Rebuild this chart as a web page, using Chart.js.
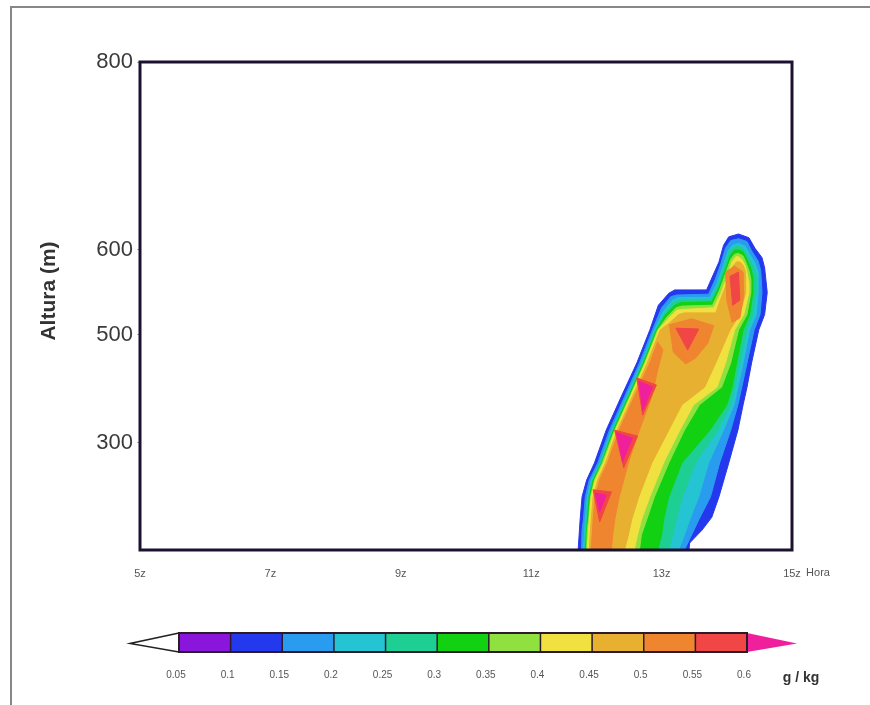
<!DOCTYPE html>
<html lang="pt">
<head>
<meta charset="utf-8">
<title>Conteúdo de água líquida</title>
<script src="https://cdn.jsdelivr.net/npm/chart.js@4.4.1/dist/chart.umd.min.js"></script>
<style>
  html, body { margin: 0; padding: 0; background: #fff; }
  #wrap { position: relative; width: 870px; height: 705px; }
</style>
</head>
<body>
<div id="wrap"><canvas id="lwcChart" width="870" height="705"></canvas></div>
<script>
// eixos
const horaTicks = [5, 7, 9, 11, 13, 15];
const alturaTicks = [300, 500, 600, 800];

// níveis do contorno (g/kg) e cores de cada faixa (abaixo de 0.05 ... acima de 0.6)
const niveis = [0.05, 0.1, 0.15, 0.2, 0.25, 0.3, 0.35, 0.4, 0.45, 0.5, 0.55, 0.6];
const cores = ['#ffffff', '#8a16dc', '#2438ee', '#2a9cf0', '#24c4d2', '#1ecf94',
               '#12d012', '#90e040', '#f0e040', '#e8b030', '#f08530', '#f04646', '#f0209c'];

// contornos fechados [hora, altura (m)]
const acima010 = [
  [11.72,100],[11.74,137],[11.75,156],[11.78,199],[11.85,230],[11.97,262],[12.15,323],[12.38,385],[12.62,448],[12.82,506],[12.95,535],[13.11,549],[13.20,553],
  [13.69,553],[13.77,567],[13.88,586],[13.95,605],[14.03,614],[14.18,617],[14.34,613],[14.43,602],[14.54,591],[14.58,579],[14.62,550],
  [14.58,524],[14.49,506],[14.38,448],[14.31,403],[14.25,370],[14.17,323],[14.03,262],[13.88,199],[13.77,161],[13.62,137],[13.43,113],[13.42,100]
];
const acima015 = [
  [11.77,100],[11.78,137],[11.80,156],[11.83,199],[11.89,230],[12.02,262],[12.20,323],[12.43,385],[12.66,448],[12.86,506],[13.00,532],[13.14,545],[13.23,547],
  [13.72,548],[13.82,565],[13.91,584],[13.98,602],[14.06,610],[14.18,612],[14.31,609],[14.38,599],[14.48,587],[14.52,576],[14.54,550],
  [14.51,524],[14.42,506],[14.31,448],[14.23,403],[14.17,370],[14.06,323],[13.89,262],[13.75,199],[13.57,156],[13.46,128],[13.35,100]
];
const acima020 = [
  [11.80,100],[11.82,137],[11.83,156],[11.86,199],[11.92,230],[12.05,262],[12.23,323],[12.46,385],[12.69,448],[12.89,506],[13.03,528],[13.17,541],[13.26,544],
  [13.74,544],[13.85,561],[13.94,580],[14.02,599],[14.09,605],[14.18,607],[14.28,604],[14.35,595],[14.43,585],[14.48,574],[14.48,550],
  [14.45,524],[14.35,506],[14.25,448],[14.17,403],[14.11,370],[13.95,323],[13.72,262],[13.57,199],[13.43,156],[13.35,128],[13.26,100]
];
const acima025 = [
  [11.82,100],[11.83,137],[11.85,156],[11.88,199],[11.94,230],[12.06,262],[12.25,323],[12.48,385],[12.71,448],[12.91,506],[13.05,526],[13.18,539],[13.28,541],
  [13.75,542],[13.86,558],[13.95,578],[14.03,598],[14.11,603],[14.18,604],[14.26,601],[14.32,593],[14.40,582],[14.45,572],[14.45,550],
  [14.40,524],[14.31,506],[14.20,448],[14.12,403],[14.06,370],[13.86,323],[13.52,262],[13.32,199],[13.22,156],[13.17,128],[13.11,100]
];
const acima030 = [
  [11.83,100],[11.85,137],[11.86,156],[11.89,199],[11.95,230],[12.08,262],[12.26,323],[12.49,385],[12.72,448],[12.92,506],[13.06,524],[13.20,535],[13.29,538],
  [13.77,539],[13.88,556],[13.97,575],[14.05,593],[14.12,600],[14.18,600],[14.25,598],[14.31,589],[14.37,578],[14.40,568],[14.40,550],
  [14.35,524],[14.25,506],[14.15,448],[14.08,403],[14.00,370],[13.74,323],[13.31,262],[13.11,199],[13.03,156],[13.00,128],[12.94,100]
];
const acima035 = [
  [11.85,100],[11.86,137],[11.88,156],[11.91,199],[11.97,230],[12.09,262],[12.28,323],[12.51,385],[12.74,448],[12.94,506],[13.08,521],[13.22,532],[13.31,534],
  [13.78,535],[13.89,553],[13.98,572],[14.06,589],[14.12,595],[14.18,596],[14.25,593],[14.29,586],[14.34,576],[14.37,565],[14.37,550],
  [14.31,524],[14.18,506],[14.06,448],[13.92,403],[13.58,370],[13.35,323],[13.11,262],[12.89,199],[12.77,156],[12.69,128],[12.66,100]
];
const acima040 = [
  [11.86,100],[11.88,137],[11.89,156],[11.92,199],[11.98,230],[12.11,262],[12.29,323],[12.52,385],[12.75,448],[12.95,506],[13.09,518],[13.23,529],[13.32,530],
  [13.80,532],[13.91,549],[14.00,568],[14.08,586],[14.14,592],[14.18,592],[14.23,589],[14.28,582],[14.31,573],[14.34,561],[14.34,550],
  [14.26,524],[14.12,506],[13.98,448],[13.85,403],[13.49,370],[13.28,323],[13.03,262],[12.82,199],[12.69,156],[12.63,128],[12.58,100]
];
const acima045 = [
  [11.89,100],[11.91,137],[11.92,156],[11.95,199],[12.02,230],[12.14,262],[12.32,323],[12.55,385],[12.78,448],[12.98,506],[13.12,514],[13.26,524],[13.35,526],
  [13.83,526],[13.92,545],[14.02,565],[14.09,581],[14.15,586],[14.20,586],[14.25,582],[14.28,576],[14.29,567],[14.29,550],
  [14.20,524],[14.05,506],[13.83,448],[13.66,403],[13.31,370],[13.11,323],[12.85,262],[12.65,199],[12.54,156],[12.49,128],[12.43,100]
];
const acima050 = [
  [[11.92,100],[11.94,137],[11.95,156],[11.98,199],[12.05,230],[12.17,262],[12.35,323],[12.58,385],[12.82,448],[12.94,487],
   [13.02,472],[12.94,435],[12.85,385],[12.66,323],[12.49,262],[12.35,199],[12.28,156],[12.25,128],[12.23,100]],
  [[13.12,512],[13.46,519],[13.80,511],[13.71,485],[13.52,457],[13.37,446],[13.18,468]],
  [[13.98,574],[14.12,581],[14.25,574],[14.26,547],[14.20,520],[14.08,515],[14.00,541]]
];
const acima055 = [
  [[11.95,212],[12.23,208],[12.05,152]],
  [[12.28,323],[12.63,312],[12.42,253]],
  [[12.62,420],[12.92,407],[12.71,351]],
  [[13.22,508],[13.57,507],[13.40,472]],
  [[14.05,569],[14.18,574],[14.20,541],[14.09,535]]
];
const acima060 = [
  [[11.98,206],[12.15,202],[12.05,171]],
  [[12.31,318],[12.55,308],[12.40,264]],
  [[12.65,414],[12.86,403],[12.71,360]]
];

const contornos = [
  { nivel: 0.1,  poligonos: [acima010] },
  { nivel: 0.15, poligonos: [acima015] },
  { nivel: 0.2,  poligonos: [acima020] },
  { nivel: 0.25, poligonos: [acima025] },
  { nivel: 0.3,  poligonos: [acima030] },
  { nivel: 0.35, poligonos: [acima035] },
  { nivel: 0.4,  poligonos: [acima040] },
  { nivel: 0.45, poligonos: [acima045] },
  { nivel: 0.5,  poligonos: acima050 },
  { nivel: 0.55, poligonos: acima055 },
  { nivel: 0.6,  poligonos: acima060 }
];

// eixo vertical com espaçamento por trechos (níveis do modelo)
const eixoAlturas = [100, 500, 600, 800];
const eixoFracoes = [0, 0.4406, 0.6148, 1];
function interp(v, xs, ys) {
  for (let i = 1; i < xs.length; i++) {
    if (v <= xs[i] || i === xs.length - 1) {
      const t = (v - xs[i - 1]) / (xs[i] - xs[i - 1]);
      return ys[i - 1] + t * (ys[i] - ys[i - 1]);
    }
  }
}
class AlturaScale extends Chart.LinearScale {
  getPixelForValue(value) {
    return this.getPixelForDecimal(interp(value, eixoAlturas, eixoFracoes));
  }
  getValueForPixel(pixel) {
    return interp(this.getDecimalForPixel(pixel), eixoFracoes, eixoAlturas);
  }
}
AlturaScale.id = 'altura';
AlturaScale.defaults = Chart.LinearScale.defaults;
Chart.register(AlturaScale);

const datasets = [];
contornos.forEach(c => {
  const cor = cores[niveis.indexOf(c.nivel) + 1];
  c.poligonos.forEach(p => {
    datasets.push({
      label: '≥ ' + c.nivel,
      data: p.map(([h, z]) => ({ x: h, y: z })),
      backgroundColor: cor,
      borderColor: cor,
      pointRadius: 0,
      showLine: false
    });
  });
});

// preenche os contornos usando as escalas do gráfico
const contornoPlugin = {
  id: 'contornos',
  beforeDatasetsDraw(chart) {
    const { ctx, chartArea: a, scales: { x, y } } = chart;
    ctx.save();
    ctx.beginPath();
    ctx.rect(a.left, a.top, a.right - a.left, a.bottom - a.top);
    ctx.clip();
    chart.data.datasets.forEach(ds => {
      ctx.beginPath();
      ds.data.forEach((p, i) => {
        const px = x.getPixelForValue(p.x), py = y.getPixelForValue(p.y);
        if (i) ctx.lineTo(px, py); else ctx.moveTo(px, py);
      });
      ctx.closePath();
      ctx.fillStyle = ds.backgroundColor;
      ctx.fill();
      ctx.strokeStyle = ds.backgroundColor;
      ctx.lineWidth = 1;
      ctx.stroke();
    });
    ctx.restore();
  }
};

// moldura, títulos e barra de cores
const molduraPlugin = {
  id: 'moldura',
  afterDraw(chart) {
    const { ctx, chartArea: a } = chart;
    ctx.save();

    // borda externa
    ctx.strokeStyle = '#878787';
    ctx.lineWidth = 2;
    ctx.beginPath();
    ctx.moveTo(11, 705);
    ctx.lineTo(11, 7);
    ctx.lineTo(870, 7);
    ctx.stroke();

    // caixa do gráfico
    ctx.strokeStyle = '#1c1230';
    ctx.lineWidth = 3;
    ctx.strokeRect(a.left, a.top, a.right - a.left, a.bottom - a.top);

    // títulos dos eixos
    ctx.fillStyle = '#333';
    ctx.font = 'bold 21px "Liberation Sans", Arial, sans-serif';
    ctx.textAlign = 'center';
    ctx.textBaseline = 'middle';
    ctx.translate(49, 291);
    ctx.rotate(-Math.PI / 2);
    ctx.fillText('Altura (m)', 0, 0);
    ctx.setTransform(1, 0, 0, 1, 0, 0);
    ctx.font = '11px "Liberation Sans", Arial, sans-serif';
    ctx.fillStyle = '#555';
    ctx.fillText('Hora', 818, 573);

    // barra de cores
    const x0 = 179, x1 = 747, yT = 633, yB = 652, yM = (yT + yB) / 2;
    const w = (x1 - x0) / (niveis.length - 1);
    for (let i = 0; i < niveis.length - 1; i++) {
      ctx.fillStyle = cores[i + 1];
      ctx.fillRect(x0 + i * w, yT, w, yB - yT);
    }
    ctx.fillStyle = cores[0];
    ctx.strokeStyle = '#222';
    ctx.lineWidth = 1.5;
    ctx.beginPath();
    ctx.moveTo(x0, yT); ctx.lineTo(130, yM + 1); ctx.lineTo(x0, yB);
    ctx.fill(); ctx.stroke();
    ctx.fillStyle = cores[cores.length - 1];
    ctx.beginPath();
    ctx.moveTo(x1, yT); ctx.lineTo(797, yM + 1); ctx.lineTo(x1, yB); ctx.closePath();
    ctx.fill();
    ctx.strokeStyle = '#2a1a2a';
    ctx.lineWidth = 2;
    ctx.strokeRect(x0, yT, x1 - x0, yB - yT);
    ctx.lineWidth = 1.5;
    for (let i = 1; i < niveis.length - 1; i++) {
      ctx.beginPath();
      ctx.moveTo(x0 + i * w, yT);
      ctx.lineTo(x0 + i * w, yB);
      ctx.stroke();
    }
    ctx.fillStyle = '#555';
    ctx.font = '10px "Liberation Sans", Arial, sans-serif';
    niveis.forEach((v, i) => ctx.fillText(String(v), x0 + i * w - 3, 675));
    ctx.fillStyle = '#333';
    ctx.font = 'bold 14px "Liberation Sans", Arial, sans-serif';
    ctx.fillText('g / kg', 801, 678);

    ctx.restore();
  }
};

const ctx = document.getElementById('lwcChart').getContext('2d');
new Chart(ctx, {
  type: 'scatter',
  data: { datasets },
  options: {
    responsive: false,
    animation: false,
    devicePixelRatio: 1,
    layout: { padding: { left: 12, right: 78, top: 62, bottom: 115 } },
    plugins: { legend: { display: false }, tooltip: { enabled: false } },
    scales: {
      x: {
        type: 'linear',
        min: 5,
        max: 15,
        afterBuildTicks: s => { s.ticks = horaTicks.map(v => ({ value: v })); },
        afterFit: s => { s.height = 40; },
        grid: { display: false, drawTicks: false },
        border: { display: false },
        ticks: {
          padding: 17,
          color: '#555',
          font: { family: '"Liberation Sans", Arial, sans-serif', size: 11 },
          callback: v => v + 'z'
        }
      },
      y: {
        type: 'altura',
        min: 100,
        max: 800,
        afterBuildTicks: s => { s.ticks = alturaTicks.map(v => ({ value: v })); },
        afterFit: s => { s.width = 128; },
        grid: { drawOnChartArea: false, drawTicks: true, tickLength: 3, color: '#aaa' },
        border: { display: false },
        ticks: {
          padding: 4,
          color: '#3a3a3a',
          font: { family: '"Liberation Sans", Arial, sans-serif', size: 22 }
        }
      }
    }
  },
  plugins: [contornoPlugin, molduraPlugin]
});
</script>
</body>
</html>
